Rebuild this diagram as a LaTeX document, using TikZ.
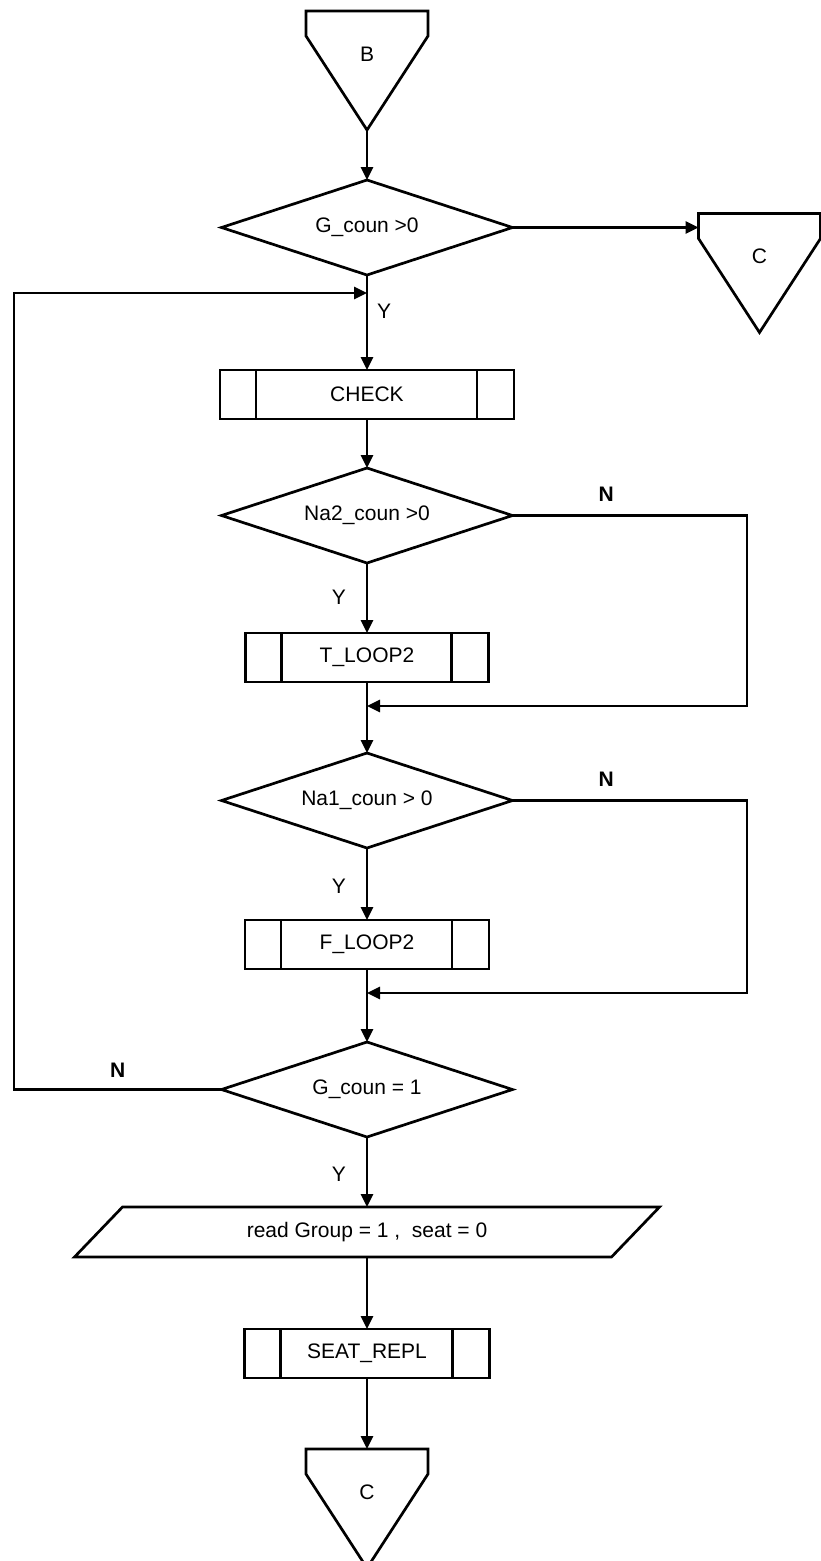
\documentclass[tikz,border=0pt]{standalone}
\usepackage{fontspec}
\setmainfont{Liberation Sans}
\usetikzlibrary{arrows.meta,positioning,shapes.geometric}

\begin{document}
\begin{tikzpicture}[
    x=1pt, y=-1pt,
    font=\fontsize{21pt}{25pt}\selectfont,
    every node/.style={outer sep=0pt},
    outline/.style={line width=2.7pt, line join=miter},
    offpage/.style={
        rectangle,
        minimum width=122pt,
        minimum height=119pt,
        inner sep=0pt,
        text height=15pt,
        text depth=34pt
    },
    decision/.style={
        diamond,
        draw,
        outline,
        inner sep=0pt,
        aspect=3.06,
        minimum width=291pt,
        minimum height=95pt
    },
    procblock/.style={
        rectangle,
        draw,
        outline,
        minimum width=#1,
        minimum height=49pt
    },
    iobox/.style={
        rectangle,
        minimum width=537pt,
        minimum height=50pt
    },
    line/.style={draw, outline, -{Triangle[length=13pt,width=12pt]}},
    flag/.style={inner sep=0pt}
]
\useasboundingbox (0,0) rectangle (820,1561);

% Main blocks
\node[offpage] (B) at (367,70.5) {B};
\node[decision, below=50pt of B] (g1) {G\_coun >0};
\node[procblock=294pt, below=95pt of g1] (check) {CHECK};
\node[decision, below=49pt of check] (g2) {Na2\_coun >0};
\node[procblock=243pt, below=70pt of g2] (tloop) {T\_LOOP2};
\node[decision, below=71pt of tloop] (g3) {Na1\_coun > 0};
\node[procblock=244pt, below=72pt of g3] (floop) {F\_LOOP2};
\node[decision, below=73pt of floop] (g4) {G\_coun = 1};
\node[iobox, below=70pt of g4] (read) {read Group = 1 ,\ \ seat = 0};
\node[procblock=245pt, below=72pt of read] (seat) {SEAT\_REPL};
\node[offpage, below=71pt of seat] (C) {C};
\node[offpage, anchor=north west] (Cside) at ([xshift=186pt,yshift=14pt]g1.east) {C};

% Off-page connectors
\foreach \n in {B,C,Cside}
    \draw[outline] (\n.north west) -- (\n.north east) -- ([yshift=-25pt]\n.north east)
        -- (\n.south) -- ([yshift=-25pt]\n.north west) -- cycle;

% Side bars of the subroutine boxes
\foreach \n in {check,tloop,floop,seat}
    \draw[outline] ([xshift=36pt]\n.north west) -- ([xshift=36pt]\n.south west)
        ([xshift=-37pt]\n.north east) -- ([xshift=-37pt]\n.south east);

% Input box
\draw[outline] ([xshift=24pt]read.north west) -- ([xshift=24pt]read.north east)
    -- ([xshift=-24pt]read.south east) -- ([xshift=-24pt]read.south west) -- cycle;

% Helper points
\coordinate (back) at ([yshift=-18pt]g1.south);
\coordinate (join1) at ([yshift=-24pt]tloop.south);
\coordinate (join2) at ([yshift=-24pt]floop.south);
\coordinate (leftrail) at (14,0);
\coordinate (rightrail) at (747,0);

% Main flow arrows
\draw[line] (B.south) -- (g1.north);
\draw[line] (g1.east) -- (g1.east -| Cside.west);
\draw[line] (g1.south) -- node[flag, pos=.38, right=10pt] (y1) {Y} (check.north);
\draw[line] (check.south) -- (g2.north);
\draw[line] (g2.south) -- node[flag, pos=.49, left=21pt] (y2) {Y} (tloop.north);
\draw[line] (tloop.south) -- (g3.north);
\draw[line] (g3.south) -- node[flag, pos=.53, left=21pt] (y3) {Y} (floop.north);
\draw[line] (floop.south) -- (g4.north);
\draw[line] (g4.south) -- node[flag, pos=.53, left=21pt] (y4) {Y} (read.north);
\draw[line] (read.south) -- (seat.north);
\draw[line] (seat.south) -- (C.north);

% N branches
\draw[line] (g2.east) -- node[flag, pos=.4, above=14pt] (n2) {\bfseries N}
    (g2.east -| rightrail) |- (join1);
\draw[line] (g3.east) -- node[flag, pos=.4, above=14pt] (n3) {\bfseries N}
    (g3.east -| rightrail) |- (join2);
\draw[line] (g4.west) -- node[flag, midway, above=12pt] (n4) {\bfseries N}
    (g4.west -| leftrail) |- (back);

\end{tikzpicture}
\end{document}
